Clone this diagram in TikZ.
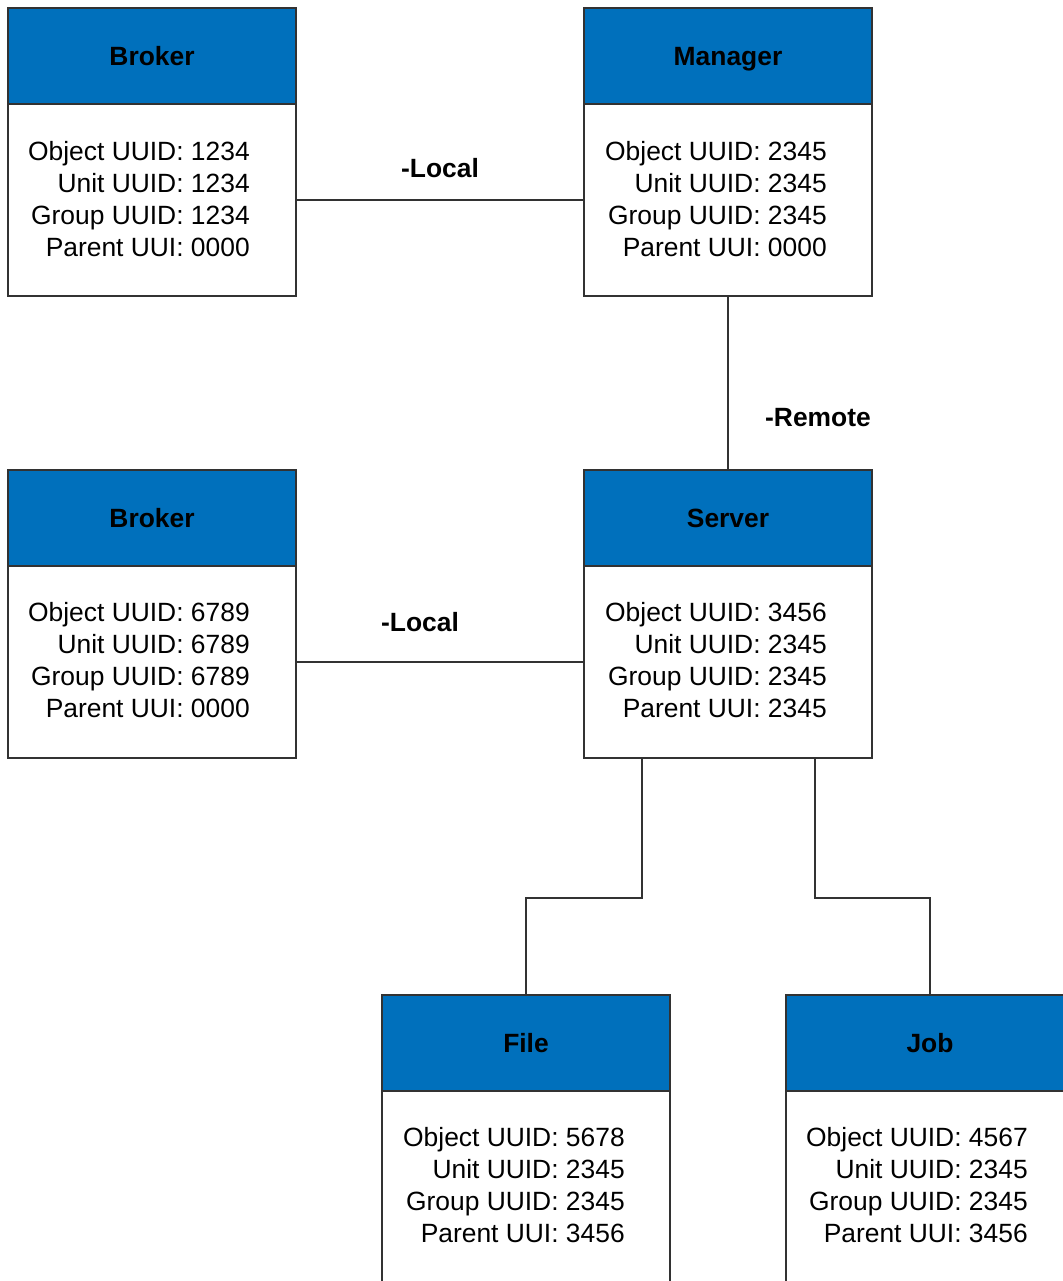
\documentclass[tikz,border=0pt]{standalone}
\usepackage{fontspec}
\setmainfont{Liberation Sans}
\definecolor{hdrblue}{RGB}{0,112,188}
\definecolor{edge}{RGB}{50,50,50}
\begin{document}
\begin{tikzpicture}[x=0.75pt,y=-0.75pt,
  every node/.style={font=\fontsize{19.8pt}{24pt}\selectfont},
  hdr/.style={draw=edge,line width=1.4pt,fill=hdrblue,minimum width=216pt,minimum height=72pt,inner sep=0pt,text height=15.5pt,text depth=2pt,font=\fontsize{19.8pt}{24pt}\selectfont\bfseries},
  bodybox/.style={draw=edge,line width=1.4pt,fill=white,minimum width=216pt,minimum height=144pt,inner sep=0pt},
  fields/.style={anchor=east,align=right,inner sep=0pt},
  conn/.style={draw=edge,line width=1.4pt},
  lbl/.style={font=\fontsize{19.8pt}{24pt}\selectfont\bfseries,inner sep=0pt}]
\useasboundingbox (0,0) rectangle (1063,1281);
\clip (0,0) rectangle (1063,1281);
% Broker 1
\node[bodybox] (b1b) at (152,200) {};
\node[hdr] (b1h) at (152,56) {Broker};
\node[fields] (b1t) at (250,199) {Object UUID: 1234\\Unit UUID: 1234\\Group UUID: 1234\\Parent UUI: 0000};
% Manager
\node[bodybox] (mb) at (728,200) {};
\node[hdr] (mh) at (728,56) {Manager};
\node[fields] (mt) at (827,199) {Object UUID: 2345\\Unit UUID: 2345\\Group UUID: 2345\\Parent UUI: 0000};
% Broker 2
\node[bodybox] (b2b) at (152,662) {};
\node[hdr] (b2h) at (152,518) {Broker};
\node[fields] (b2t) at (250,660) {Object UUID: 6789\\Unit UUID: 6789\\Group UUID: 6789\\Parent UUI: 0000};
% Server
\node[bodybox] (sb) at (728,662) {};
\node[hdr] (sh) at (728,518) {Server};
\node[fields] (st) at (827,660) {Object UUID: 3456\\Unit UUID: 2345\\Group UUID: 2345\\Parent UUI: 2345};
% File
\node[bodybox] (fb) at (526,1187) {};
\node[hdr] (fh) at (526,1043) {File};
\node[fields] (ft) at (625,1185) {Object UUID: 5678\\Unit UUID: 2345\\Group UUID: 2345\\Parent UUI: 3456};
% Job
\node[bodybox] (jb) at (930,1187) {};
\node[hdr] (jh) at (930,1043) {Job};
\node[fields] (jt) at (1028,1185) {Object UUID: 4567\\Unit UUID: 2345\\Group UUID: 2345\\Parent UUI: 3456};
% connectors
\draw[conn] (b1b.east) -- (mb.west);
\draw[conn] (mb.south) -- (sh.north);
\draw[conn] (b2b.east) -- (sb.west);
\coordinate (sl) at (642,758);
\coordinate (sr) at (815,758);
\draw[conn] (sl) -- ++(0,140) -| (fh.north);
\draw[conn] (sr) -- ++(0,140) -| (jh.north);
% labels
\node[lbl] (l1) at (440,168) {-Local};
\node[lbl] (l2) at (818,418) {-Remote};
\node[lbl] (l3) at (420,622) {-Local};
\end{tikzpicture}
\end{document}
